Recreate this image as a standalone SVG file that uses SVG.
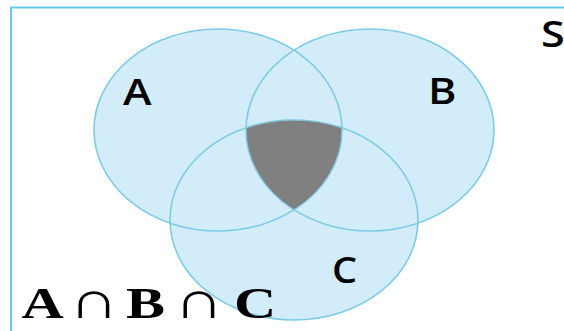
<svg xmlns="http://www.w3.org/2000/svg" width="564" height="331" viewBox="0 0 564 331">
<style>
.sans{font-family:"Open Sans","Noto Sans","Liberation Sans",sans-serif;font-size:36px;font-weight:600;fill:#000}
.serif{font-family:"Liberation Serif","DejaVu Serif",serif;font-size:45px;font-weight:bold;fill:#000}
.cap{font-family:"Liberation Serif","DejaVu Serif",serif;font-size:53px;font-weight:normal;fill:#000}
.fill{fill:#d2edf9;stroke:none}
.edge{fill:none;stroke:#7fcbe6;stroke-width:1.6}
</style>
<rect width="564" height="331" fill="#fff"/>
<path id="universe" d="M11,331 V7.5 H564" fill="none" stroke="#66ccee" stroke-width="2"/>
<g id="set-fills">
<ellipse class="fill" cx="218" cy="130" rx="124" ry="101"/>
<ellipse class="fill" cx="370" cy="130" rx="124" ry="101"/>
<ellipse class="fill" cx="294" cy="220" rx="124" ry="100"/>
</g>
<g id="setA"><ellipse class="edge" cx="218" cy="130" rx="124" ry="101"/>
<text class="sans" transform="translate(123,105) scale(1.2,1)">A</text></g>
<g id="setB"><ellipse class="edge" cx="370" cy="130" rx="124" ry="101"/>
<text class="sans" transform="translate(428,104) scale(1.2,1)">B</text></g>
<g id="setC"><ellipse class="edge" cx="294" cy="220" rx="124" ry="100"/>
<text class="sans" transform="translate(332,283) scale(1.1,1)" font-size="39">C</text></g>
<g id="intersection"><path d="M246.1,127.8 A124,100 0 0 1 341.9,127.8 A124,101 0 0 1 294,209.8 A124,101 0 0 1 246.1,127.8 Z" fill="#808080" stroke="#86cfe8" stroke-width="1"/></g>
<text class="sans" transform="translate(541,46.5) scale(1.2,1)">S</text>
<g id="formula">
<text class="serif" transform="translate(21.5,318) scale(1.3,1)">A</text>
<text class="cap" transform="translate(69,318) scale(1.3,1)">∩</text>
<text class="serif" transform="translate(126,318) scale(1.3,1)">B</text>
<text class="cap" transform="translate(174,318) scale(1.3,1)">∩</text>
<text class="serif" transform="translate(234,318) scale(1.3,1)">C</text>
</g>
</svg>
